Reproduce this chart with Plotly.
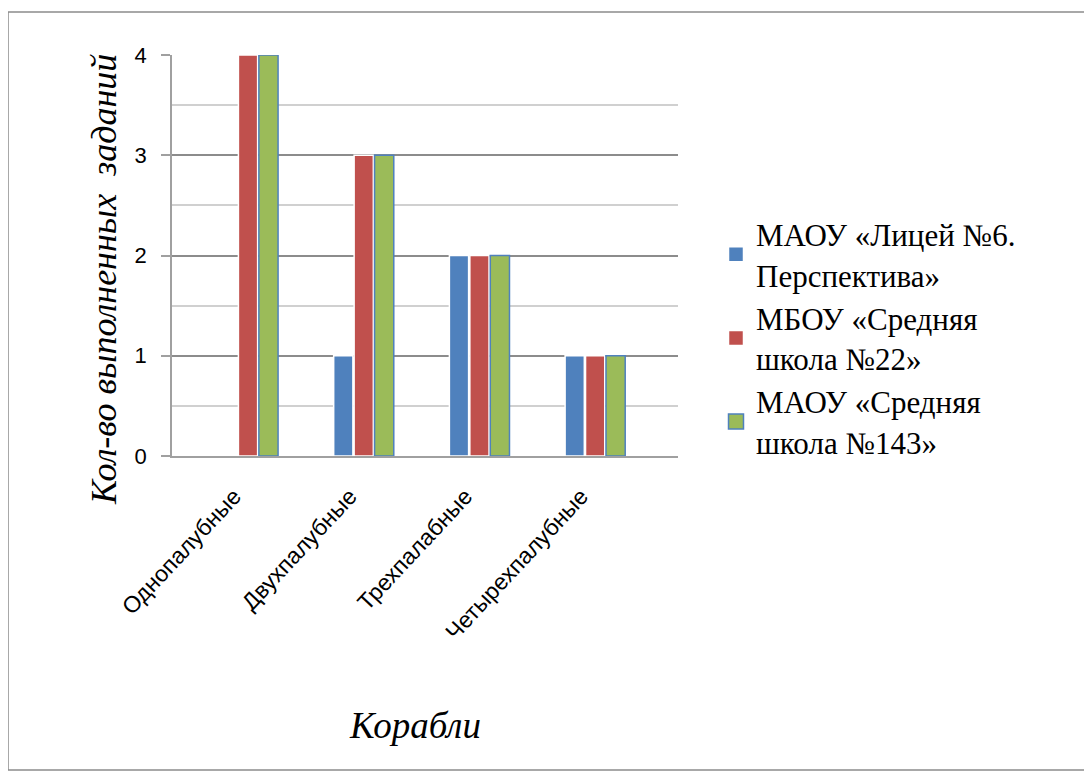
import plotly.graph_objects as go

categories = ["Однопалубные", "Двухпалубные", "Трехпалабные", "Четырехпалубные"]
series_names = ["МАОУ «Лицей №6.<br>Перспектива»", "МБОУ «Средняя<br>школа №22»", "МАОУ «Средняя<br>школа №143»"]
lyceum6 = [0, 1, 2, 1]
school22 = [4, 3, 2, 1]
school143 = [4, 3, 2, 1]
colors = ["#4F81BD", "#C0504D", "#9BBB59"]
outlines = ["#FFFFFF", "#FFFFFF", "#4F81BD"]

W, H = 1092, 776
OFF = 8  # page body margin shifts the figure
L, R, T, B = 172 - OFF, 1092 - (678 - OFF), 55 - OFF, 776 - (456 - OFF)
pw, ph = W - L - R, H - T - B

def px(x):
    return (x - OFF - L) / pw

def py(y):
    return (H - B - (y - OFF)) / ph

serif = "Liberation Serif, Times New Roman, serif"

fig = go.Figure()
for name, vals, c, oc in zip(series_names, [lyceum6, school22, school143], colors, outlines):
    fig.add_trace(go.Bar(x=categories, y=vals, name=name, showlegend=False, legendgroup=name,
                         marker=dict(color=c, line=dict(color=oc, width=1.5))))
# legend entries with larger square swatches
for name, c, oc in zip(series_names, colors, ["#FFFFFF", "#FFFFFF", "#4F81BD"]):
    fig.add_trace(go.Scatter(x=[None], y=[None], mode="markers", name=name, legendgroup=name,
                             marker=dict(symbol="square", size=15, color=c, line=dict(color=oc, width=1.5))))

fig.update_layout(
    width=W, height=H,
    paper_bgcolor="white", plot_bgcolor="white",
    barmode="group", bargap=0.47, bargroupgap=0.06,
    margin=dict(l=L, r=R, t=T, b=B, autoexpand=False),
    font=dict(family="Liberation Sans, Arial, sans-serif", color="#000000"),
    legend=dict(x=px(716), y=py(338), xanchor="left", yanchor="middle",
                font=dict(family=serif, size=31), itemwidth=30,
                itemsizing="trace", tracegroupgap=0, bgcolor="rgba(0,0,0,0)"),
    xaxis=dict(tickangle=-47, tickfont=dict(size=23), showline=True, linecolor="#A0A0A0", linewidth=1.5,
               range=[-0.657, 3.716], ticklabelstandoff=16, ticklabelshift=-14),
    yaxis=dict(range=[0, 4], dtick=1, tickfont=dict(size=22), showline=True, linecolor="#A0A0A0", linewidth=1.5,
               ticks="outside", ticklen=9, tickcolor="#A0A0A0", tickwidth=1.5, ticklabelstandoff=10,
               gridcolor="#8C8C8C", gridwidth=1.5, zeroline=False,
               minor=dict(dtick=0.5, showgrid=True, gridcolor="#D0D0D0", gridwidth=1.5)),
    annotations=[
        dict(text="<i>Кол-во выполненных  заданий</i>", xref="paper", yref="paper",
             x=px(104), y=py(280), xanchor="center", yanchor="middle", textangle=-90,
             showarrow=False, font=dict(family=serif, size=36)),
        dict(text="<i>Корабли</i>", xref="paper", yref="paper",
             x=px(415), y=py(725), xanchor="center", yanchor="middle",
             showarrow=False, font=dict(family=serif, size=37)),
    ],
    shapes=[dict(type="rect", xref="paper", yref="paper", x0=px(8), x1=px(1085), y0=py(770), y1=py(12),
                 line=dict(color="#8C8C8C", width=1.5), fillcolor="rgba(0,0,0,0)")],
)
fig.write_html("out.html")
